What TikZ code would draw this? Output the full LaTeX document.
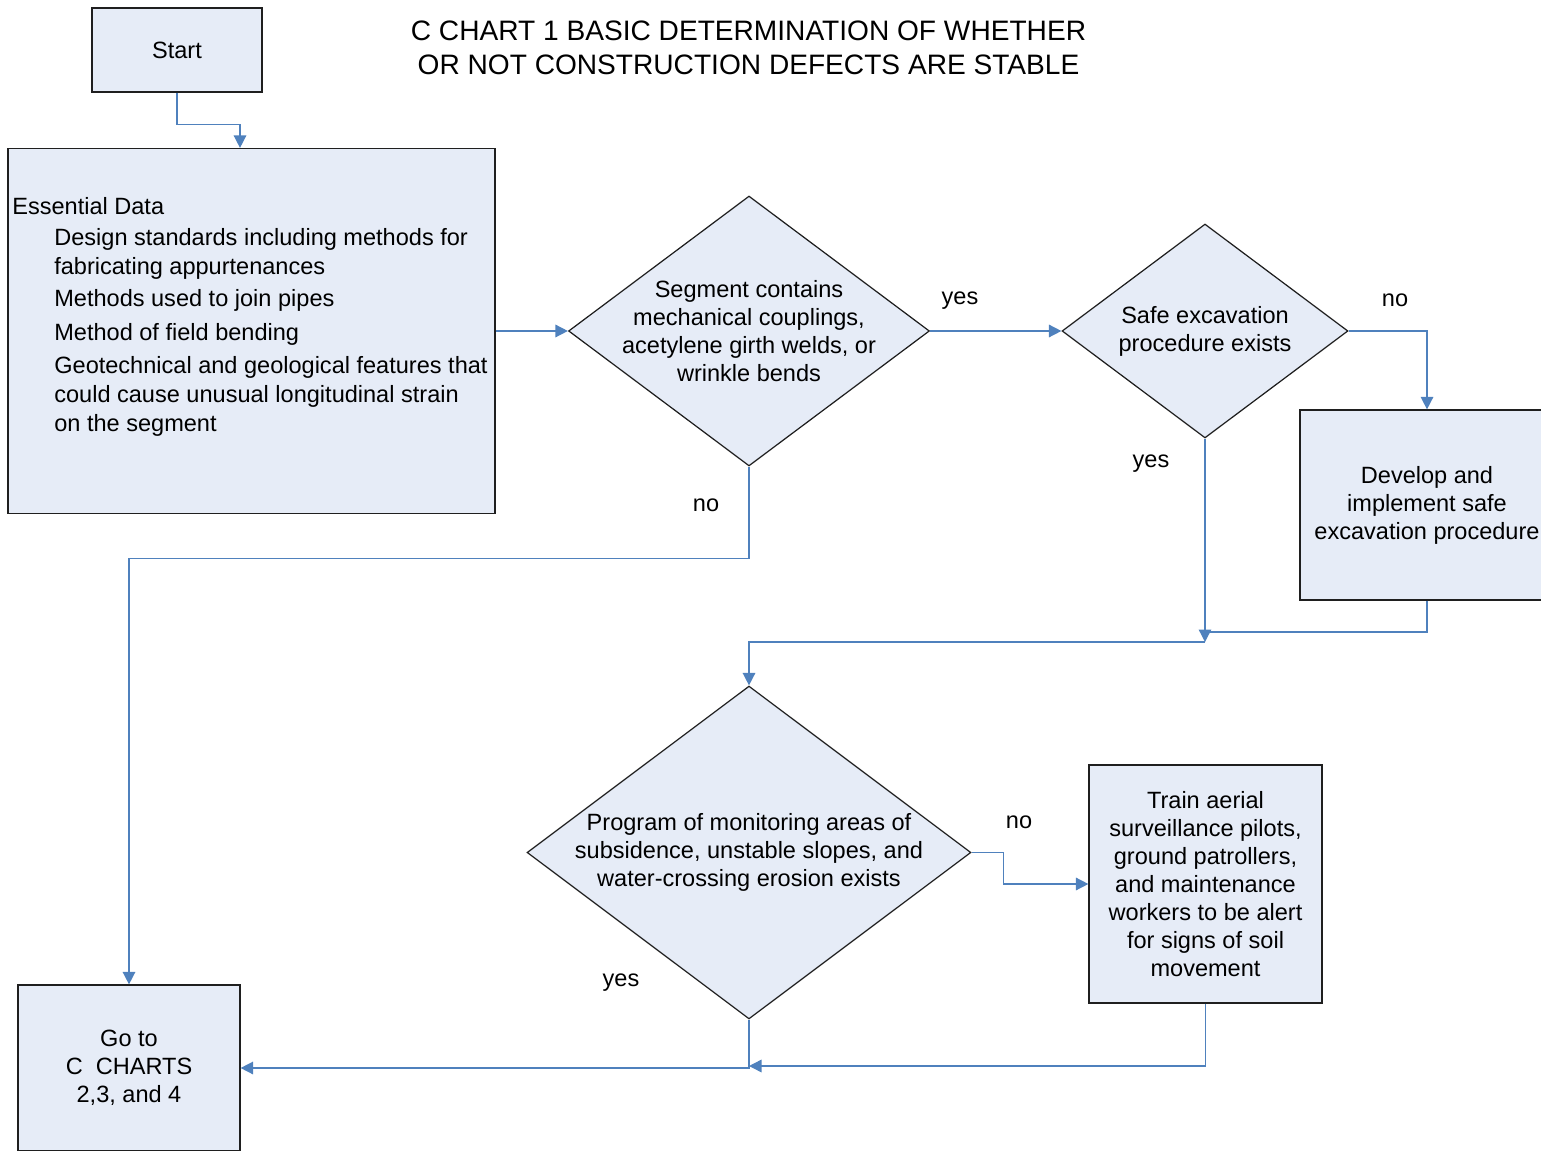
\documentclass[tikz,border=0pt]{standalone}
\usepackage{fontspec}
\setmainfont{Liberation Sans}
\usetikzlibrary{shapes.geometric,arrows.meta,positioning}
\definecolor{boxFill}{HTML}{E6ECF7}
\definecolor{flowBlue}{HTML}{4F81BD}
\definecolor{edgeGray}{HTML}{1F1F1F}

\begin{document}
\begin{tikzpicture}[
        x=0.02cm, y=-0.02cm,
        every node/.style={font=\fontsize{13.4}{15.9}\selectfont},
        boxNode/.style={rectangle, draw=edgeGray, fill=boxFill, line width=0.7pt, align=center, inner sep=0pt},
        decisionNode/.style={diamond, draw=edgeGray, fill=boxFill, line width=0.7pt, inner sep=0pt},
        flowLine/.style={draw=flowBlue, line width=0.85pt},
        flowArrow/.style={flowLine, -{Triangle[length=0.25cm, width=0.25cm]}}
    ]
        \useasboundingbox (0,0) rectangle (1541,1151);
        \clip (0,0) rectangle (1541,1151);

        % Title
        \node[font=\fontsize{16}{19.4}\selectfont, align=center] (title) at (748.5,48)
            {C CHART 1 BASIC DETERMINATION OF WHETHER\\OR NOT CONSTRUCTION DEFECTS ARE STABLE};

        % Boxes
        \node[boxNode, minimum width=3.4cm, minimum height=1.68cm] (start) at (177,50) {Start};
        \node[boxNode, minimum width=9.74cm, minimum height=7.3cm] (essential) at (251.5,331) {};
        \node[anchor=north west, inner sep=0pt, align=left, font=\fontsize{13.4}{16.4}\selectfont] (essentialText) at (12,197)
            {Essential Data\\[1.5pt]
             \hspace*{0.84cm}Design standards including methods for\\
             \hspace*{0.84cm}fabricating appurtenances\\[2pt]
             \hspace*{0.84cm}Methods used to join pipes\\[2.5pt]
             \hspace*{0.84cm}Method of field bending\\[2.5pt]
             \hspace*{0.84cm}Geotechnical and geological features that\\
             \hspace*{0.84cm}could cause unusual longitudinal strain\\
             \hspace*{0.84cm}on the segment};
        \node[boxNode, minimum width=5.08cm, minimum height=3.8cm] (develop) at (1427,505)
            {Develop and\\implement safe\\excavation procedure};
        \node[boxNode, minimum width=4.66cm, minimum height=4.76cm] (train) at (1205.5,884)
            {Train aerial\\surveillance pilots,\\ground patrollers,\\and maintenance\\workers to be alert\\for signs of soil\\movement};
        \node[boxNode, minimum width=4.44cm, minimum height=3.32cm] (goto) at (129,1068)
            {Go to\\C\ \ CHARTS\\2,3, and 4};

        % Decisions
        \node[decisionNode, minimum width=7.22cm, minimum height=5.4cm] (seg) at (749,331) {};
        \node[align=center] (segText) at (seg)
            {Segment contains\\mechanical couplings,\\acetylene girth welds, or\\wrinkle bends};
        \node[decisionNode, minimum width=5.72cm, minimum height=4.28cm] (safe) at (1205,331) {};
        \node[align=center] (safeText) at (safe) {Safe excavation\\procedure exists};
        \node[decisionNode, minimum width=8.88cm, minimum height=6.66cm] (monitor) at (749,852.5) {};
        \node[align=center] (monitorText) at (monitor)
            {Program of monitoring areas of\\subsidence, unstable slopes, and\\water-crossing erosion exists};

        % Junctions
        \coordinate (joinA) at (1205,642);
        \coordinate (joinB) at (749,1066);

        % Edges
        \draw[flowArrow] (start.south) -- ++(0,32) -| ([xshift=-0.23cm]essential.north);
        \draw[flowArrow] (essential.east) -- (seg.west);
        \draw[flowArrow] (seg.east) -- (safe.west);
        \draw[flowArrow] (safe.east) -| (develop.north);
        \draw[flowArrow] (safe.south) -- (joinA);
        \draw[flowLine] (develop.south) |- ([yshift=0.2cm]joinA);
        \draw[flowArrow] (joinA) -| (monitor.north);
        \draw[flowArrow] (seg.south) -- ++(0,92) -| (goto.north);
        \draw[flowArrow] (monitor.east) -- ++(32,0) |- (train.west);
        \draw[flowArrow] (monitor.south) |- (goto.east);
        \draw[flowArrow] (train.south) |- (joinB);

        % Edge labels
        \node (segYes) at (960,301) {yes};
        \node (segNo) at (706,505) {no};
        \node (safeNo) at (1395,300) {no};
        \node (safeYes) at (1151,464) {yes};
        \node (monitorNo) at (1019,822) {no};
        \node (monitorYes) at (621,983) {yes};
    \end{tikzpicture}
\end{document}
